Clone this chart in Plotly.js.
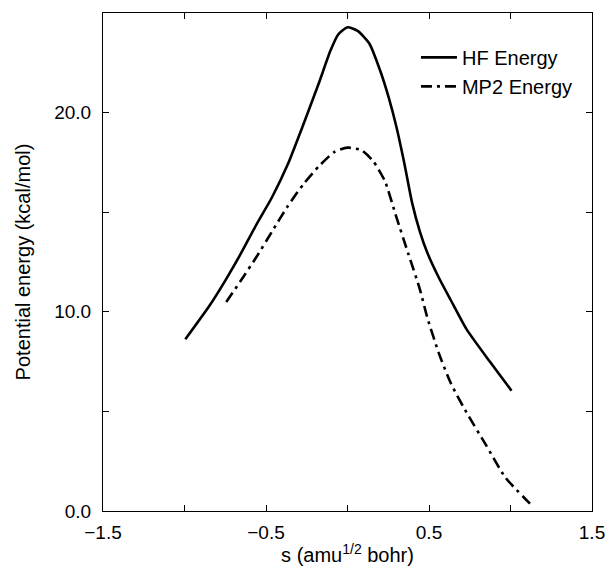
<!DOCTYPE html>
<html>
<head>
<meta charset="utf-8">
<script src="https://cdn.plot.ly/plotly-3.0.1.min.js"></script>
<style>html,body{margin:0;padding:0;background:#fff;}</style>
</head>
<body>
<div id="chart" style="width:609px;height:566px;"></div>
<script>
// HF energy curve (s in amu^1/2 bohr, energy in kcal/mol)
const hfS = [-0.995, -0.844, -0.749, -0.653, -0.558, -0.463, -0.367, -0.272, -0.176, -0.105, -0.057, 0.0, 0.062, 0.134, 0.205, 0.253, 0.3, 0.348, 0.396, 0.444, 0.491, 0.563, 0.634, 0.73, 0.873, 1.006];
const hfE = [8.62, 10.34, 11.58, 12.94, 14.39, 15.75, 17.39, 19.38, 21.47, 23.1, 23.92, 24.28, 24.1, 23.47, 22.0, 20.75, 19.29, 17.48, 15.48, 14.03, 12.94, 11.67, 10.58, 9.13, 7.5, 6.04];
// MP2 energy curve
const mp2S = [-0.744, -0.653, -0.558, -0.463, -0.367, -0.272, -0.176, -0.081, 0.0, 0.086, 0.157, 0.229, 0.3, 0.372, 0.444, 0.491, 0.563, 0.634, 0.73, 0.849, 0.968, 1.135];
const mp2E = [10.49, 11.58, 12.76, 14.03, 15.3, 16.39, 17.3, 18.02, 18.24, 18.11, 17.57, 16.57, 14.75, 12.94, 11.13, 9.67, 7.86, 6.41, 4.95, 3.32, 1.69, 0.24];
const seriesNames = ["HF Energy", "MP2 Energy"];

const fam = "Liberation Sans, Arial, Helvetica, sans-serif";
const tickFont = {family: fam, size: 19, color: "#000"};
const titleFont = {family: fam, size: 20, color: "#000"};

const traces = [
  {x: hfS, y: hfE, name: seriesNames[0], mode: "lines",
   line: {color: "#000", width: 2.6, shape: "spline", smoothing: 0.6}},
  {x: mp2S, y: mp2E, name: seriesNames[1], mode: "lines",
   line: {color: "#000", width: 2.6, shape: "spline", smoothing: 0.6, dash: "11px,5px,3px,5px"}}
];

const axisCommon = {
  showgrid: false, zeroline: false, showline: true, linecolor: "#000", linewidth: 1,
  mirror: "ticks", ticks: "inside", ticklen: 6, tickcolor: "#000", tickwidth: 1,
  tickfont: tickFont
};

const layout = {
  width: 609, height: 566,
  margin: {l: 103, r: 17, t: 13, b: 55},
  paper_bgcolor: "#fff", plot_bgcolor: "#fff",
  font: tickFont,
  showlegend: true,
  legend: {x: 0.64, y: 0.95, xanchor: "left", yanchor: "top", bgcolor: "rgba(0,0,0,0)",
           itemwidth: 36, font: {family: fam, size: 20, color: "#000"}, tracegroupgap: 0},
  xaxis: Object.assign({}, axisCommon, {
    range: [-1.5, 1.5], tick0: -1.5, dtick: 1, tickformat: ".1f",
    ticklabelstandoff: 4,
    minor: {dtick: 0.5, tick0: -1.5, ticks: "inside", ticklen: 6, tickcolor: "#000"},
    title: {text: "s (amu<sup>1/2</sup> bohr)", font: titleFont, standoff: 6}
  }),
  yaxis: Object.assign({}, axisCommon, {
    range: [0, 25], tick0: 0, dtick: 10, tickformat: ".1f",
    minor: {dtick: 5, tick0: 0, ticks: "inside", ticklen: 6, tickcolor: "#000"},
    ticklabelstandoff: 7,
    title: {text: "Potential energy (kcal/mol)", font: titleFont, standoff: 18}
  })
};

Plotly.newPlot("chart", traces, layout, {displayModeBar: false, staticPlot: true});
</script>
</body>
</html>
